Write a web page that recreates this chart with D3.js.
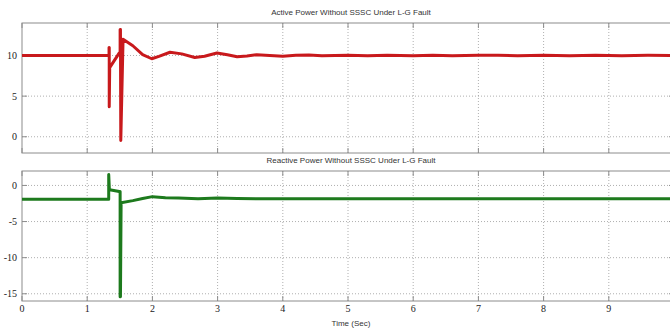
<!DOCTYPE html>
<html>
<head>
<meta charset="utf-8">
<script src="https://cdn.jsdelivr.net/npm/d3@7"></script>
<style>
  body { margin: 0; background: #fff; }
  svg { display: block; }
  .grid line { stroke: #9a9a9a; stroke-dasharray: 1,2; stroke-width: 0.8; }
  .frame { fill: none; stroke: #8c8c8c; stroke-width: 1; }
  .tick-lbl { font-family: "Liberation Serif", "DejaVu Serif", serif; font-size: 10px; fill: #222; }
  .title { font-family: "Liberation Sans Narrow", "Liberation Sans", Arial, sans-serif; font-size: 8px; fill: #333; }
</style>
</head>
<body>
<svg id="chart" width="670" height="331"></svg>
<script>
// x ticks (seconds); the 10 s edge lies just past the window
const xTicks = [0, 1, 2, 3, 4, 5, 6, 7, 8, 9, 10];
const xLabels = [0, 1, 2, 3, 4, 5, 6, 7, 8, 9];

// active power (top panel)
const activeTime  = [0, 1.335, 1.335, 1.338, 1.338, 1.345, 1.49, 1.505, 1.505, 1.51, 1.515, 1.55, 1.7, 1.85, 1.99, 2.1, 2.27, 2.45, 2.65, 2.8, 2.99, 3.15, 3.3, 3.45, 3.6, 3.8, 4.0, 4.2, 4.4, 4.6, 4.8, 5.0, 5.3, 5.6, 6.0, 6.3, 6.6, 7.0, 7.3, 7.6, 8.0, 8.4, 8.8, 9.2, 9.6, 10];
const activeValue = [10, 10, 11.0, 11.0, 3.7, 8.5, 10.3, 10.3, 13.2, 13.2, -0.45, 12.0, 11.2, 10.1, 9.6, 9.9, 10.4, 10.2, 9.75, 9.9, 10.3, 10.1, 9.85, 9.95, 10.1, 10.0, 9.92, 10.03, 10.06, 9.96, 10.0, 10.04, 9.96, 10.04, 9.97, 10.04, 9.96, 10.02, 10.04, 9.97, 10.03, 9.97, 10.03, 9.98, 10.02, 10];
const activeTicks = [0, 5, 10];

// reactive power (bottom panel)
const reactiveTime  = [0, 1.33, 1.33, 1.34, 1.345, 1.49, 1.505, 1.505, 1.51, 1.52, 1.7, 1.85, 2.0, 2.2, 2.4, 2.7, 3.0, 3.3, 3.6, 4.0, 5.0, 6.0, 7.0, 8.0, 9.0, 10];
const reactiveValue = [-1.9, -1.9, 1.5, -0.55, -0.6, -0.85, -0.85, -15.4, -15.4, -2.4, -2.1, -1.8, -1.55, -1.7, -1.75, -1.85, -1.75, -1.8, -1.85, -1.85, -1.85, -1.85, -1.85, -1.85, -1.85, -1.85];
const reactiveTicks = [-15, -10, -5, 0];

const svg = d3.select("#chart");
const LEFT = 22, RIGHT = 674;

const x = d3.scaleLinear().domain([0, 10]).range([LEFT, RIGHT]);

function panel(cfg) {
  const y = d3.scaleLinear().domain(cfg.domain).range([cfg.bottom, cfg.top]);
  const g = svg.append("g");

  // grid
  const grid = g.append("g").attr("class", "grid");
  grid.selectAll(".vx").data(xTicks.slice(1, -1)).enter().append("line")
    .attr("x1", d => x(d)).attr("x2", d => x(d))
    .attr("y1", cfg.top).attr("y2", cfg.bottom);
  grid.selectAll(".hy").data(cfg.ticks).enter().append("line")
    .attr("x1", LEFT).attr("x2", RIGHT)
    .attr("y1", d => y(d)).attr("y2", d => y(d));

  // frame and inward ticks
  g.append("rect").attr("class", "frame")
    .attr("x", LEFT).attr("y", cfg.top)
    .attr("width", RIGHT - LEFT).attr("height", cfg.bottom - cfg.top);
  const tk = g.append("g").attr("stroke", "#8c8c8c").attr("stroke-width", 1);
  xTicks.forEach(t => {
    tk.append("line").attr("x1", x(t)).attr("x2", x(t)).attr("y1", cfg.top).attr("y2", cfg.top + 5);
    tk.append("line").attr("x1", x(t)).attr("x2", x(t)).attr("y1", cfg.bottom).attr("y2", cfg.bottom - 5);
  });
  cfg.ticks.forEach(t => {
    tk.append("line").attr("x1", LEFT).attr("x2", LEFT + 5).attr("y1", y(t)).attr("y2", y(t));
    tk.append("line").attr("x1", RIGHT).attr("x2", RIGHT - 5).attr("y1", y(t)).attr("y2", y(t));
  });

  // y tick labels
  g.selectAll(".ylbl").data(cfg.ticks).enter().append("text")
    .attr("class", "tick-lbl")
    .attr("x", LEFT - 5).attr("y", d => y(d) + 3.5)
    .attr("text-anchor", "end")
    .text(d => d);

  // title
  g.append("text").attr("class", "title")
    .attr("x", 351).attr("y", cfg.top - 8)
    .attr("text-anchor", "middle")
    .text(cfg.title);

  // series
  const line = d3.line().x(d => x(d[0])).y(d => y(d[1])).curve(d3.curveLinear);
  const pts = cfg.t.map((t, i) => [t, cfg.v[i]]);
  g.append("path").datum(pts)
    .attr("fill", "none")
    .attr("stroke", cfg.color)
    .attr("stroke-width", 3)
    .attr("stroke-linejoin", "round")
    .attr("d", line);

  return y;
}

panel({ top: 23, bottom: 153, domain: [-2, 14], ticks: activeTicks,
        t: activeTime, v: activeValue, color: "#c8191c",
        title: "Active Power Without SSSC Under L-G Fault" });

panel({ top: 171, bottom: 301, domain: [-16, 2], ticks: reactiveTicks,
        t: reactiveTime, v: reactiveValue, color: "#1d7a1d",
        title: "Reactive Power Without SSSC Under L-G Fault" });

// x tick labels (bottom panel only)
svg.selectAll(".xlbl").data(xLabels).enter().append("text")
  .attr("class", "tick-lbl")
  .attr("x", d => x(d)).attr("y", 312)
  .attr("text-anchor", "middle")
  .text(d => d);

svg.append("text").attr("class", "title")
  .attr("x", 351).attr("y", 326)
  .attr("text-anchor", "middle")
  .text("Time (Sec)");
</script>
</body>
</html>
